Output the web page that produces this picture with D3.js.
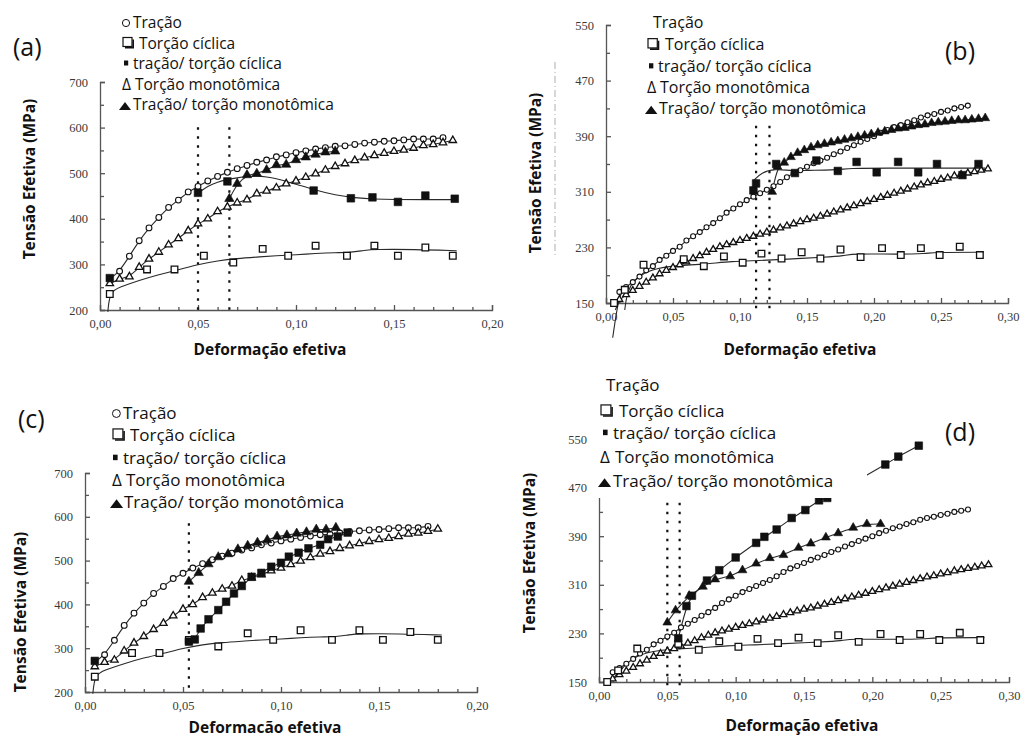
<!DOCTYPE html>
<html>
<head>
<meta charset="utf-8">
<script src="https://cdn.jsdelivr.net/npm/d3@7"></script>
<style>
  body { margin: 0; background: #fff; }
</style>
</head>
<body>
<div id="chart"></div>
<script>
// ---- series shared by panels (a) and (c) ----
var circA_x = [0.010,0.015,0.020,0.025,0.030,0.035,0.040,0.045,0.050,0.055,0.060,0.065,0.070,0.075,0.080,0.085,0.090,0.095,0.100,0.105,0.110,0.115,0.120,0.125,0.130,0.135,0.140,0.145,0.150,0.155,0.160,0.165,0.170,0.175];
var circA_y = [285,318,352,380,403,425,441,459,471,483,493,502,510,517,524,529,536,540,545,549,553,556,559,560,563,566,568,570,571,573,575,575,575,578];
var triA_x = [0.005,0.010,0.015,0.020,0.025,0.030,0.035,0.040,0.045,0.050,0.055,0.060,0.065,0.070,0.075,0.080,0.085,0.090,0.095,0.100,0.105,0.110,0.115,0.120,0.125,0.130,0.135,0.140,0.145,0.150,0.155,0.160,0.165,0.170,0.175,0.180];
var triA_y = [258,268,273,294,312,327,343,357,374,389,400,416,426,435,442,455,461,468,477,483,491,499,507,515,521,528,534,539,544,548,551,555,561,563,567,572];
var sqA_x = [0.005,0.024,0.038,0.053,0.068,0.083,0.096,0.110,0.126,0.140,0.152,0.166,0.180];
var sqA_y = [235,289,289,319,304,334,319,341,319,341,319,337,319];
var sqFitA_x = [0.004,0.005,0.010,0.020,0.030,0.040,0.050,0.060,0.070,0.080,0.090,0.100,0.110,0.120,0.128,0.135,0.140,0.160,0.182];
var sqFitA_y = [196,240,250,265,278,288,300,308,313,316,319,321,324,326,326,331,333,333,330];

// panel (a) only
var blkSqA_x = [0.005,0.050,0.065,0.109,0.128,0.139,0.152,0.166,0.181];
var blkSqA_y = [270,457,482,462,445,447,437,451,444];
var blkSqFitA_x = [0.050,0.055,0.060,0.065,0.070,0.075,0.080,0.085,0.090,0.095,0.100,0.110,0.120,0.130,0.140,0.150,0.165,0.182];
var blkSqFitA_y = [456,472,481,486,490,493,494,492,488,482,476,463,452,446,443,442,442,442];
var blkTriA_x = [0.066,0.070,0.075,0.080,0.085,0.090,0.095,0.100,0.105,0.110,0.115,0.120];
var blkTriA_y = [444,477,496,499,507,518,519,529,535,541,546,548];
var vlinesA = [0.050, 0.066];

// panel (c) only
var blkSqC_x = [0.005,0.053,0.056,0.059,0.063,0.068,0.072,0.076,0.080,0.085,0.090,0.095,0.100,0.104,0.109,0.114,0.120,0.124,0.129,0.134];
var blkSqC_y = [271,315,320,345,366,387,406,425,442,463,472,486,495,509,518,528,536,549,555,564];
var blkTriC_x = [0.053,0.058,0.063,0.068,0.073,0.078,0.083,0.088,0.093,0.098,0.103,0.108,0.113,0.118,0.123,0.128];
var blkTriC_y = [452,472,492,508,515,526,534,541,547,555,558,562,565,571,571,575];
var vlinesC = [0.053];

// ---- series shared by panels (b) and (d) ----
var circB_x = [0.010,0.015,0.020,0.025,0.030,0.035,0.040,0.045,0.050,0.055,0.060,0.065,0.070,0.075,0.080,0.085,0.090,0.095,0.100,0.105,0.110,0.115,0.120,0.125,0.130,0.135,0.140,0.145,0.150,0.155,0.160,0.165,0.170,0.175,0.180,0.185,0.190,0.195,0.200,0.205,0.210,0.215,0.220,0.225,0.230,0.235,0.240,0.245,0.250,0.255,0.260,0.265,0.270];
var circB_y = [166,173,180,188,197,203,212,218,225,231,240,246,252,259,265,272,280,286,292,298,303,308,313,318,324,331,337,341,346,351,355,359,364,368,373,377,382,386,390,395,399,403,406,410,413,417,420,422,425,427,430,432,434];
var triB_x = [0.010,0.015,0.020,0.025,0.030,0.035,0.040,0.045,0.050,0.055,0.060,0.065,0.070,0.075,0.080,0.085,0.090,0.095,0.100,0.105,0.110,0.115,0.120,0.125,0.130,0.135,0.140,0.145,0.150,0.155,0.160,0.165,0.170,0.175,0.180,0.185,0.190,0.195,0.200,0.205,0.210,0.215,0.220,0.225,0.230,0.235,0.240,0.245,0.250,0.255,0.260,0.265,0.270,0.275,0.280,0.285];
var triB_y = [155,162,168,174,180,186,192,197,201,205,209,214,218,223,227,231,234,237,240,243,246,249,252,255,258,261,264,267,270,272,275,278,281,284,287,290,293,296,299,302,305,308,311,314,317,320,323,325,328,330,333,335,337,339,341,343];
var sqB_x = [0.006,0.014,0.028,0.058,0.073,0.088,0.102,0.116,0.131,0.146,0.160,0.175,0.190,0.206,0.220,0.235,0.249,0.264,0.279];
var sqB_y = [150,169,205,213,203,217,208,221,214,223,214,227,216,229,219,229,219,231,219];
var sqFitB_x = [0.016,0.024,0.039,0.054,0.074,0.094,0.114,0.134,0.164,0.178,0.184,0.218,0.240,0.244,0.282];
var sqFitB_y = [170,190,201,204,206,210,211,213,216,218,221,220,221,223,223];

// panel (b) only
var blkSqB_x = [0.110,0.112,0.127,0.141,0.157,0.173,0.187,0.202,0.218,0.233,0.247,0.266,0.278];
var blkSqB_y = [312,322,350,337,355,340,353,338,353,338,350,334,350];
var blkSqFitB_x = [0.110,0.116,0.126,0.139,0.150,0.169,0.184,0.200,0.283];
var blkSqFitB_y = [326,338,343,340,341,341,344,344,344];
var blkTriB_x = [0.124,0.128,0.133,0.138,0.143,0.148,0.153,0.158,0.163,0.168,0.173,0.178,0.183,0.188,0.193,0.198,0.203,0.208,0.213,0.218,0.223,0.228,0.233,0.238,0.243,0.248,0.253,0.258,0.263,0.268,0.273,0.278,0.283];
var blkTriB_y = [310,346,352,360,366,370,374,377,379,381,383,385,387,389,391,393,395,397,399,401,402,404,406,407,409,410,411,412,413,413,414,415,416];
var vlinesB = [0.112, 0.122];

// panel (d) only
var blkSqD_x = [0.058,0.064,0.068,0.079,0.088,0.100,0.115,0.121,0.130,0.141,0.151,0.161,0.167,0.2095,0.219,0.234];
var blkSqD_y = [222,275,292,317,334,355,379,389,401,420,433,449,453,508,521,539];
var blkTriD_x = [0.050,0.056,0.066,0.076,0.085,0.096,0.105,0.115,0.125,0.135,0.146,0.155,0.166,0.175,0.186,0.196,0.206];
var blkTriD_y = [248,268,292,307,319,324,334,345,354,359,371,378,388,395,404,410,410];
var vlinesD = [0.050, 0.059];

// ---- ticks and labels ----
var xTicks20 = [0, 0.05, 0.10, 0.15, 0.20];
var xMinor20 = [0.01,0.02,0.03,0.04,0.06,0.07,0.08,0.09,0.11,0.12,0.13,0.14,0.16,0.17,0.18,0.19];
var yTicks700 = [200, 300, 400, 500, 600, 700];
var yMinor700 = [250, 350, 450, 550, 650];
var xTicks30 = [0, 0.05, 0.10, 0.15, 0.20, 0.25, 0.30];
var xMinor30 = [0.01,0.02,0.03,0.04,0.06,0.07,0.08,0.09,0.11,0.12,0.13,0.14,0.16,0.17,0.18,0.19,0.21,0.22,0.23,0.24,0.26,0.27,0.28,0.29];
var yTicks550 = [150, 230, 310, 390, 470, 550];
var yMinor550 = [190, 270, 350, 430, 510];

var legendText = ["Tração", "Torção cíclica", "tração/ torção cíclica", "Torção monotômica", "Tração/ torção monotômica"];
var xTitle = "Deformação efetiva";
var xTitleC = "Deformacão efetiva";
var yTitle = "Tensão Efetiva (MPa)";

var width = 1026, height = 740;
var svg = d3.select("#chart").append("svg")
  .attr("width", width)
  .attr("height", height)
  .style("background", "#fff");

var fmt = function(d){ return d.toFixed(2).replace(".", ","); };
function zip(xs, ys){ return xs.map(function(v, i){ return [v, ys[i]]; }); }
function pre(first, xs, ys){ return [first].concat(zip(xs, ys)); }

function drawPanel(p){
  var g = svg.append("g");
  var x = d3.scaleLinear().domain(p.xd).range(p.xr);
  var y = d3.scaleLinear().domain(p.yd).range(p.yr);

  // axes, ticks pointing inwards
  var ax = g.append("g").attr("transform", "translate(0," + p.yr[0] + ")")
    .call(d3.axisBottom(x).tickValues(p.xTicks).tickFormat(fmt).tickSize(-5).tickPadding(9));
  var axm = g.append("g").attr("transform", "translate(0," + p.yr[0] + ")")
    .call(d3.axisBottom(x).tickValues(p.xMinor).tickFormat("").tickSize(-3));
  var ay = g.append("g").attr("transform", "translate(" + p.xr[0] + ",0)")
    .call(d3.axisLeft(y).tickValues(p.yTicks).tickFormat(d3.format("d")).tickSize(-5).tickPadding(12));
  var aym = g.append("g").attr("transform", "translate(" + p.xr[0] + ",0)")
    .call(d3.axisLeft(y).tickValues(p.yMinor).tickFormat("").tickSize(-4));
  axm.select(".domain").remove();
  aym.select(".domain").remove();
  [ax, axm, ay, aym].forEach(function(a){
    a.attr("font-family", "'Liberation Serif', serif").attr("font-size", 12.5);
    a.selectAll("path, line").attr("stroke", "#555").attr("stroke-width", 1.3);
    a.selectAll("text").attr("fill", "#3a3a3a");
  });

  // dotted vertical markers
  g.selectAll(null).data(p.vlines).enter().append("line")
    .attr("x1", function(d){ return x(d); }).attr("x2", function(d){ return x(d); })
    .attr("y1", y(p.vTop)).attr("y2", y(p.vBot))
    .attr("stroke", "#111").attr("stroke-width", 2.2)
    .attr("stroke-dasharray", "2.5,6.5");

  // fitted lines
  var line = d3.line()
    .x(function(d){ return x(d[0]); })
    .y(function(d){ return y(d[1]); })
    .curve(d3.curveBasis);
  p.lines.forEach(function(l){
    g.append("path").attr("d", line(l)).attr("fill", "none")
      .attr("stroke", "#2a2a2a").attr("stroke-width", 1.1);
  });

  // markers
  p.marks.forEach(function(m){
    var pts = zip(m.xs, m.ys);
    if (m.type === "circle"){
      g.selectAll(null).data(pts).enter().append("circle")
        .attr("cx", function(d){ return x(d[0]); })
        .attr("cy", function(d){ return y(d[1]); })
        .attr("r", m.size)
        .attr("fill", "#fff").attr("stroke", "#111").attr("stroke-width", 1.1);
    } else {
      var tri = (m.type === "triOpen" || m.type === "triFill");
      var filled = (m.type === "triFill" || m.type === "sqFill");
      var sym = d3.symbol().type(tri ? d3.symbolTriangle : d3.symbolSquare).size(m.size);
      g.selectAll(null).data(pts).enter().append("path")
        .attr("d", sym)
        .attr("transform", function(d){ return "translate(" + x(d[0]) + "," + y(d[1]) + ")"; })
        .attr("fill", filled ? "#111" : "#fff")
        .attr("stroke", "#111")
        .attr("stroke-width", filled ? 0.6 : 1.3);
    }
  });

  // white cover (panel d legend box hides part of the plot)
  if (p.cover){
    g.append("rect").attr("x", p.cover[0]).attr("y", p.cover[1])
      .attr("width", p.cover[2]).attr("height", p.cover[3]).attr("fill", "#fff");
  }

  // axis titles
  g.append("text").attr("x", p.xtPos[0]).attr("y", p.xtPos[1])
    .attr("text-anchor", "middle")
    .attr("font-family", "'Open Sans', sans-serif").attr("font-weight", "bold")
    .attr("font-size", 15.5).attr("fill", "#111")
    .text(p.xTitle);
  g.append("text")
    .attr("transform", "translate(" + p.ytPos[0] + "," + p.ytPos[1] + ") rotate(-90)")
    .attr("text-anchor", "middle")
    .attr("font-family", "'Open Sans', sans-serif").attr("font-weight", "bold")
    .attr("font-size", 15.5).attr("fill", "#111")
    .text(yTitle);

  // panel letter
  g.append("text").attr("x", p.tag[0]).attr("y", p.tag[1])
    .attr("font-family", "'Open Sans', sans-serif").attr("font-size", 25).attr("fill", "#111")
    .text("(" + p.id + ")");

  drawLegend(g, p.legend);
}

function drawLegend(g, L){
  var k = L.fs / 15.5;
  var lg = g.append("g").attr("font-family", "'Open Sans', sans-serif")
    .attr("font-size", L.fs).attr("fill", "#111");
  legendText.forEach(function(t, i){
    var b = L.base[i], sx = L.sx[i];
    if (i === 0 && L.circle){
      lg.append("circle").attr("cx", sx + 4 * k).attr("cy", b - 5 * k).attr("r", 3.6 * k)
        .attr("fill", "none").attr("stroke", "#111").attr("stroke-width", 1);
    }
    if (i === 1){
      var s = 9 * k;
      lg.append("rect").attr("x", sx).attr("y", b - 11 * k).attr("width", s).attr("height", s)
        .attr("fill", "#fff").attr("stroke", "#111").attr("stroke-width", 1.2);
      lg.append("path")
        .attr("d", "M" + (sx + 2) + "," + (b - 11 * k + s + 1.2) + "H" + (sx + s + 1.2) + "V" + (b - 11 * k + 2))
        .attr("fill", "none").attr("stroke", "#111").attr("stroke-width", 1.6);
    }
    if (i === 2){
      lg.append("rect").attr("x", sx).attr("y", b - 8.5 * k).attr("width", 4.2 * k).attr("height", 5 * k)
        .attr("fill", "#111");
    }
    if (i === 3){
      lg.append("text").attr("x", sx).attr("y", b).text("Δ");
    }
    if (i === 4){
      lg.append("path")
        .attr("d", "M" + sx + "," + b + "L" + (sx + 6 * k) + "," + (b - 8 * k) + "L" + (sx + 12 * k) + "," + b + "Z")
        .attr("fill", "#111");
    }
    lg.append("text").attr("x", L.tx[i]).attr("y", b).text(t);
  });
}

var panels = [
  {
    id: "a", xd: [0, 0.2], xr: [100, 492], yd: [200, 700], yr: [310, 82],
    xTicks: xTicks20, xMinor: xMinor20, yTicks: yTicks700, yMinor: yMinor700,
    vlines: vlinesA, vTop: 601, vBot: 196,
    lines: [
      pre([0.005, 268], circA_x, circA_y),
      zip(triA_x, triA_y),
      zip(sqFitA_x, sqFitA_y),
      zip(blkSqFitA_x, blkSqFitA_y),
      zip(blkTriA_x, blkTriA_y)
    ],
    marks: [
      {type: "circle", xs: circA_x, ys: circA_y, size: 2.9},
      {type: "triOpen", xs: triA_x, ys: triA_y, size: 24},
      {type: "sqOpen", xs: sqA_x, ys: sqA_y, size: 44},
      {type: "sqFill", xs: blkSqA_x, ys: blkSqA_y, size: 58},
      {type: "triFill", xs: blkTriA_x, ys: blkTriA_y, size: 38}
    ],
    xTitle: xTitle, xtPos: [270, 355], ytPos: [35, 179], tag: [13, 56],
    legend: {fs: 15.5, circle: true, base: [28, 48.5, 69, 90, 110],
      sx: [122, 123, 124, 122, 119], tx: [133, 139, 133, 135, 133]}
  },
  {
    id: "b", xd: [0, 0.3], xr: [606, 1008], yd: [150, 550], yr: [303, 25],
    xTicks: xTicks30, xMinor: xMinor30, yTicks: yTicks550, yMinor: yMinor550,
    vlines: vlinesB, vTop: 405, vBot: 136,
    lines: [
      pre([0.005, 100], circB_x, circB_y),
      pre([0.007, 140], triB_x, triB_y),
      pre([0.014, 140], sqFitB_x, sqFitB_y),
      zip(blkSqFitB_x, blkSqFitB_y),
      zip(blkTriB_x, blkTriB_y)
    ],
    marks: [
      {type: "circle", xs: circB_x, ys: circB_y, size: 2.5},
      {type: "triOpen", xs: triB_x, ys: triB_y, size: 20},
      {type: "sqOpen", xs: sqB_x, ys: sqB_y, size: 44},
      {type: "sqFill", xs: blkSqB_x, ys: blkSqB_y, size: 58},
      {type: "triFill", xs: blkTriB_x, ys: blkTriB_y, size: 34}
    ],
    xTitle: xTitle, xtPos: [800, 355], ytPos: [541, 173], tag: [945, 60],
    legend: {fs: 16, circle: false, base: [28, 50, 72, 93, 114],
      sx: [0, 648, 649, 647, 645], tx: [653, 665, 658, 660, 659]}
  },
  {
    id: "c", xd: [0, 0.2], xr: [85, 477], yd: [200, 700], yr: [692, 473],
    xTicks: xTicks20, xMinor: xMinor20, yTicks: yTicks700, yMinor: yMinor700,
    vlines: vlinesC, vTop: 585, vBot: 196,
    lines: [
      pre([0.005, 268], circA_x, circA_y),
      zip(triA_x, triA_y),
      zip(sqFitA_x, sqFitA_y),
      zip(blkSqC_x.slice(1), blkSqC_y.slice(1)),
      zip(blkTriC_x, blkTriC_y)
    ],
    marks: [
      {type: "circle", xs: circA_x, ys: circA_y, size: 2.9},
      {type: "triOpen", xs: triA_x, ys: triA_y, size: 24},
      {type: "sqOpen", xs: sqA_x, ys: sqA_y, size: 44},
      {type: "sqFill", xs: blkSqC_x, ys: blkSqC_y, size: 58},
      {type: "triFill", xs: blkTriC_x, ys: blkTriC_y, size: 38}
    ],
    xTitle: xTitleC, xtPos: [265, 733], ytPos: [26, 612], tag: [18, 428],
    legend: {fs: 17, circle: true, base: [419, 441, 464, 486, 508],
      sx: [112, 113, 113, 112, 110], tx: [123, 130, 123, 126, 124]}
  },
  {
    id: "d", xd: [0, 0.3], xr: [599, 1009], yd: [150, 550], yr: [682, 439],
    xTicks: xTicks30, xMinor: xMinor30, yTicks: yTicks550, yMinor: yMinor550,
    vlines: vlinesD, vTop: 445, vBot: 140,
    lines: [
      pre([0.008, 150], circB_x, circB_y),
      pre([0.008, 150], triB_x, triB_y),
      pre([0.008, 150], sqFitB_x, sqFitB_y),
      zip(blkSqD_x, blkSqD_y),
      zip(blkTriD_x, blkTriD_y)
    ],
    marks: [
      {type: "circle", xs: circB_x, ys: circB_y, size: 2.5},
      {type: "triOpen", xs: triB_x, ys: triB_y, size: 20},
      {type: "sqOpen", xs: sqB_x, ys: sqB_y, size: 44},
      {type: "sqFill", xs: blkSqD_x, ys: blkSqD_y, size: 58},
      {type: "triFill", xs: blkTriD_x, ys: blkTriD_y, size: 34}
    ],
    cover: [595, 362, 272, 136],
    xTitle: xTitle, xtPos: [802, 731], ytPos: [535, 553], tag: [945, 441],
    legend: {fs: 17, circle: false, base: [391, 417, 439, 463, 487],
      sx: [0, 601, 603, 600, 598], tx: [606, 619, 613, 615, 613]}
  }
];

panels.forEach(drawPanel);

// scan artefact in panel (b): faint dash-dot guide left of the axis
svg.append("line").attr("x1", 555).attr("x2", 555).attr("y1", 62).attr("y2", 258)
  .attr("stroke", "#999").attr("stroke-width", 0.8).attr("stroke-dasharray", "7,3,1,3");
</script>
</body>
</html>
